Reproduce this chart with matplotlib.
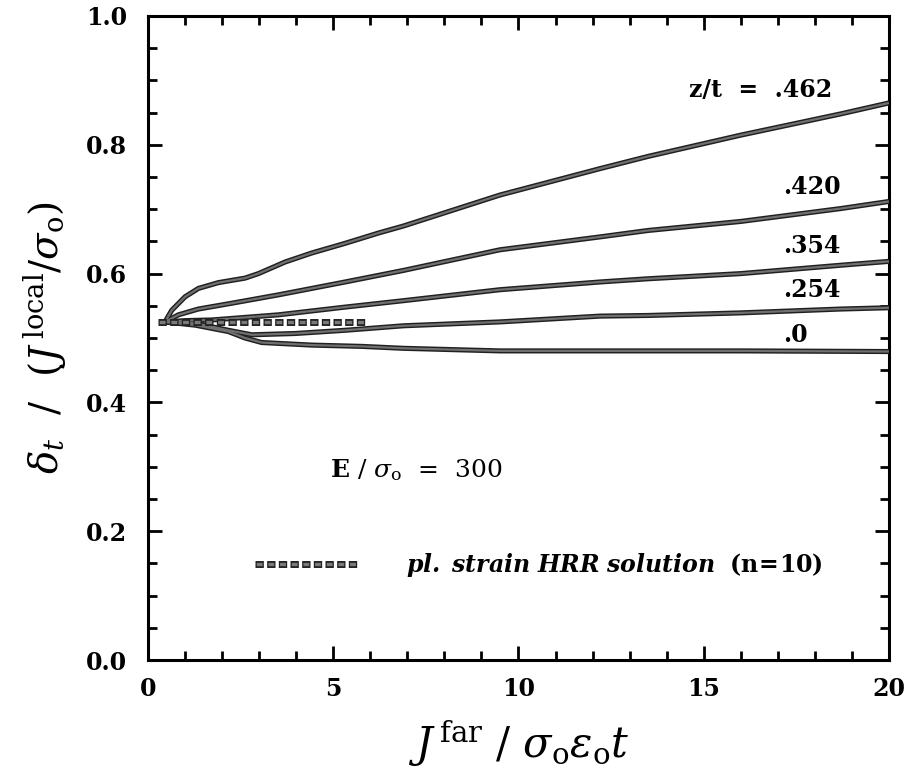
import numpy as np
import matplotlib
matplotlib.use('Agg')
import matplotlib.pyplot as plt
from matplotlib import rcParams
from matplotlib.legend_handler import HandlerTuple

# Font settings
rcParams['font.family'] = 'serif'
rcParams['font.serif'] = ['DejaVu Serif']
rcParams['font.weight'] = 'normal'
rcParams['mathtext.fontset'] = 'dejavuserif'
rcParams['lines.scale_dashes'] = False

# CTOD normalised by local J, for several positions through the thickness
x_462 = [0.46, 0.64, 1.0, 1.36, 1.9, 2.62, 2.98, 3.7, 4.42, 5.32, 6.22, 6.9, 9.5, 12.2, 13.5, 16.0, 18.7, 20.0]
y_462 = [0.525, 0.543, 0.564, 0.577, 0.586, 0.593, 0.600, 0.618, 0.632, 0.647, 0.663, 0.674, 0.722, 0.763, 0.782, 0.815, 0.848, 0.865]

x_420 = [0.46, 0.82, 1.36, 2.26, 3.52, 5.32, 6.9, 9.5, 12.2, 13.5, 16.0, 18.7, 20.0]
y_420 = [0.525, 0.536, 0.545, 0.554, 0.567, 0.587, 0.605, 0.637, 0.657, 0.667, 0.681, 0.701, 0.712]

x_354 = [0.46, 1.0, 1.72, 3.52, 5.32, 6.9, 9.5, 12.2, 13.5, 16.0, 18.7, 20.0]
y_354 = [0.525, 0.527, 0.528, 0.536, 0.548, 0.558, 0.575, 0.587, 0.592, 0.600, 0.613, 0.619]

x_254 = [0.46, 1.27, 2.17, 2.8, 3.97, 5.32, 6.9, 9.5, 12.2, 13.5, 16.0, 18.7, 20.0]
y_254 = [0.525, 0.523, 0.512, 0.505, 0.507, 0.512, 0.519, 0.525, 0.534, 0.535, 0.539, 0.545, 0.547]

x_0 = [0.46, 1.27, 2.17, 2.62, 3.07, 4.42, 5.77, 6.9, 9.5, 12.2, 16.0, 20.0]
y_0 = [0.525, 0.520, 0.510, 0.500, 0.493, 0.489, 0.487, 0.484, 0.480, 0.480, 0.480, 0.479]

# plane strain HRR value (n=10)
hrr_x = [0.27, 5.86]
hrr_y = [0.525, 0.525]

curves = [(x_462, y_462), (x_420, y_420), (x_354, y_354), (x_254, y_254), (x_0, y_0)]
curve_labels = ['z/t  =  .462', '.420', '.354', '.254', '.0']
label_pos = [(14.6, 0.885), (17.14, 0.734), (17.14, 0.643), (17.14, 0.575), (17.14, 0.505)]

fig = plt.figure(figsize=(9.08, 7.8), dpi=100)
ax = fig.add_axes([0.163, 0.1538, 0.816, 0.8257])

for cx, cy in curves:
    ax.plot(cx, cy, color='#202020', lw=3.7, solid_capstyle='butt', zorder=3)
    ax.plot(cx, cy, color='#707070', lw=1.6, solid_capstyle='butt', zorder=4)

h_out, = ax.plot(hrr_x, hrr_y, color='#202020', lw=5.0,
                 linestyle=(0, (6.0, 2.4)), dash_capstyle='butt', zorder=5)
h_in, = ax.plot(hrr_x, hrr_y, color='#7a7a7a', lw=2.4,
                linestyle=(7.5, (4.2, 4.2)), dash_capstyle='butt', zorder=6)

for txt, (tx, ty) in zip(curve_labels, label_pos):
    ax.text(tx, ty, txt, fontsize=17, fontweight='bold', ha='left', va='center')

ax.text(4.91, 0.295, r'$\mathbf{E}$ / $\sigma_{\mathrm{o}}$  =  300', fontsize=18,
        ha='left', va='center')

ax.legend([(h_out, h_in)],
          [r'$\mathbfit{pl.\ strain\ HRR\ solution}$  $\mathbf{(n\!=\!10)}$'],
          handler_map={tuple: HandlerTuple(ndivide=1)},
          loc='center left', bbox_to_anchor=(0.144, 0.1475),
          frameon=False, fontsize=17, handlelength=4.4,
          handletextpad=2.0, borderpad=0, borderaxespad=0)

ax.set_xlim(0, 20)
ax.set_ylim(0, 1.0)
ax.set_xticks([0, 5, 10, 15, 20])
ax.set_yticks([0.0, 0.2, 0.4, 0.6, 0.8, 1.0])
ax.set_xticks(np.arange(0, 21, 1), minor=True)
ax.set_yticks(np.arange(0, 1.0001, 0.05), minor=True)
ax.set_xticklabels(['0', '5', '10', '15', '20'], fontweight='bold')
ax.set_yticklabels(['0.0', '0.2', '0.4', '0.6', '0.8', '1.0'], fontweight='bold')
ax.tick_params(which='both', direction='in', top=True, right=True, width=2)
ax.tick_params(which='major', length=10, labelsize=17)
ax.tick_params(axis='x', which='major', pad=12)
ax.tick_params(axis='y', which='major', pad=15)
ax.tick_params(which='minor', length=6.5)
for s in ax.spines.values():
    s.set_linewidth(2.2)

ax.set_xlabel(r'$J^{\,\mathrm{far}}\ /\ \sigma_{\mathrm{o}}\epsilon_{\mathrm{o}} t$',
              fontsize=30, labelpad=12)
ax.set_ylabel(r'$\delta_t\ \ /\ \ (J^{\,\mathrm{local}}/\sigma_{\mathrm{o}})$',
              fontsize=28, labelpad=12)

plt.savefig('out.png', dpi=100)
